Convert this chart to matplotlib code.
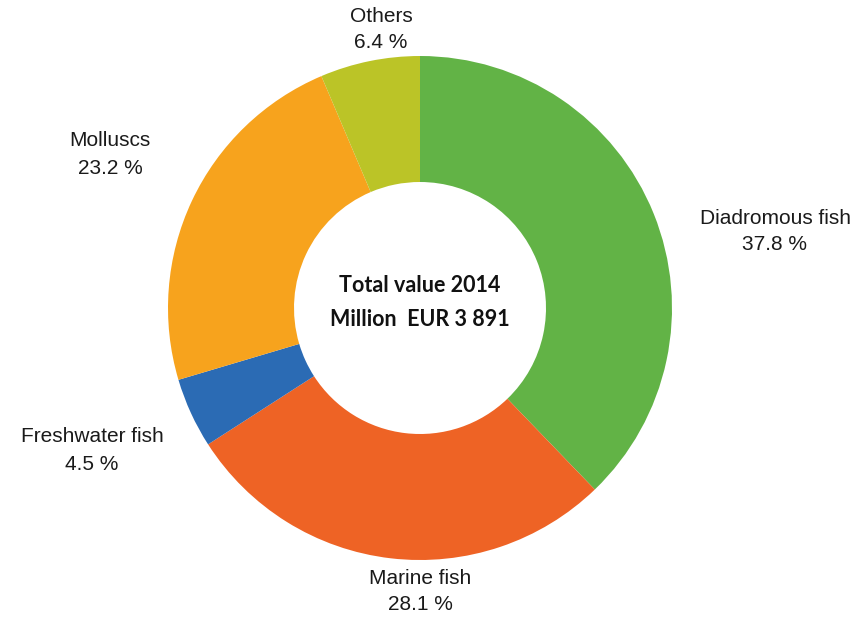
import matplotlib
matplotlib.use("Agg")
import matplotlib.pyplot as plt

groups = ["Diadromous fish", "Marine fish", "Freshwater fish", "Molluscs", "Others"]
shares = [37.8, 28.1, 4.5, 23.2, 6.4]
colors = ["#62B346", "#EE6325", "#2B6BB4", "#F7A31D", "#BBC427"]
center_lines = ["Total value 2014", "Million  EUR 3 891"]

W, H = 861, 619
cx, cy, r = 420, H - 308, 252

fig = plt.figure(figsize=(W / 100, H / 100), dpi=100)
ax = fig.add_axes([0, 0, 1, 1])
ax.pie(shares, colors=colors, startangle=90, counterclock=False,
       center=(cx, cy), radius=r,
       wedgeprops=dict(width=r * 0.5, linewidth=0))
ax.set_xlim(0, W)
ax.set_ylim(0, H)
ax.set_aspect("equal")
ax.axis("off")

# label positions in pixel space (x, top line y)
label_pos = {
    "Diadromous fish": (775, 218),
    "Marine fish": (420, 578),
    "Freshwater fish": (92, 437),
    "Molluscs": (110, 141),
    "Others": (381, 16),
}
for name, val in zip(groups, shares):
    x, y = label_pos[name]
    ax.text(x, H - y, name, ha="center", va="center", fontsize=15,
            family="Liberation Sans", color="#1a1a1a")
    ax.text(x, H - y - 27, f"{val} %", ha="center", va="center", fontsize=15,
            family="Liberation Sans", color="#1a1a1a")

ax.text(cx, H - 286, center_lines[0], ha="center", va="center", fontsize=15.5,
        family="Lato", weight="bold", color="#111111")
ax.text(cx, H - 319, center_lines[1], ha="center", va="center", fontsize=15.5,
        family="Lato", weight="bold", color="#111111")

fig.savefig("out.png", dpi=100, facecolor="white")
